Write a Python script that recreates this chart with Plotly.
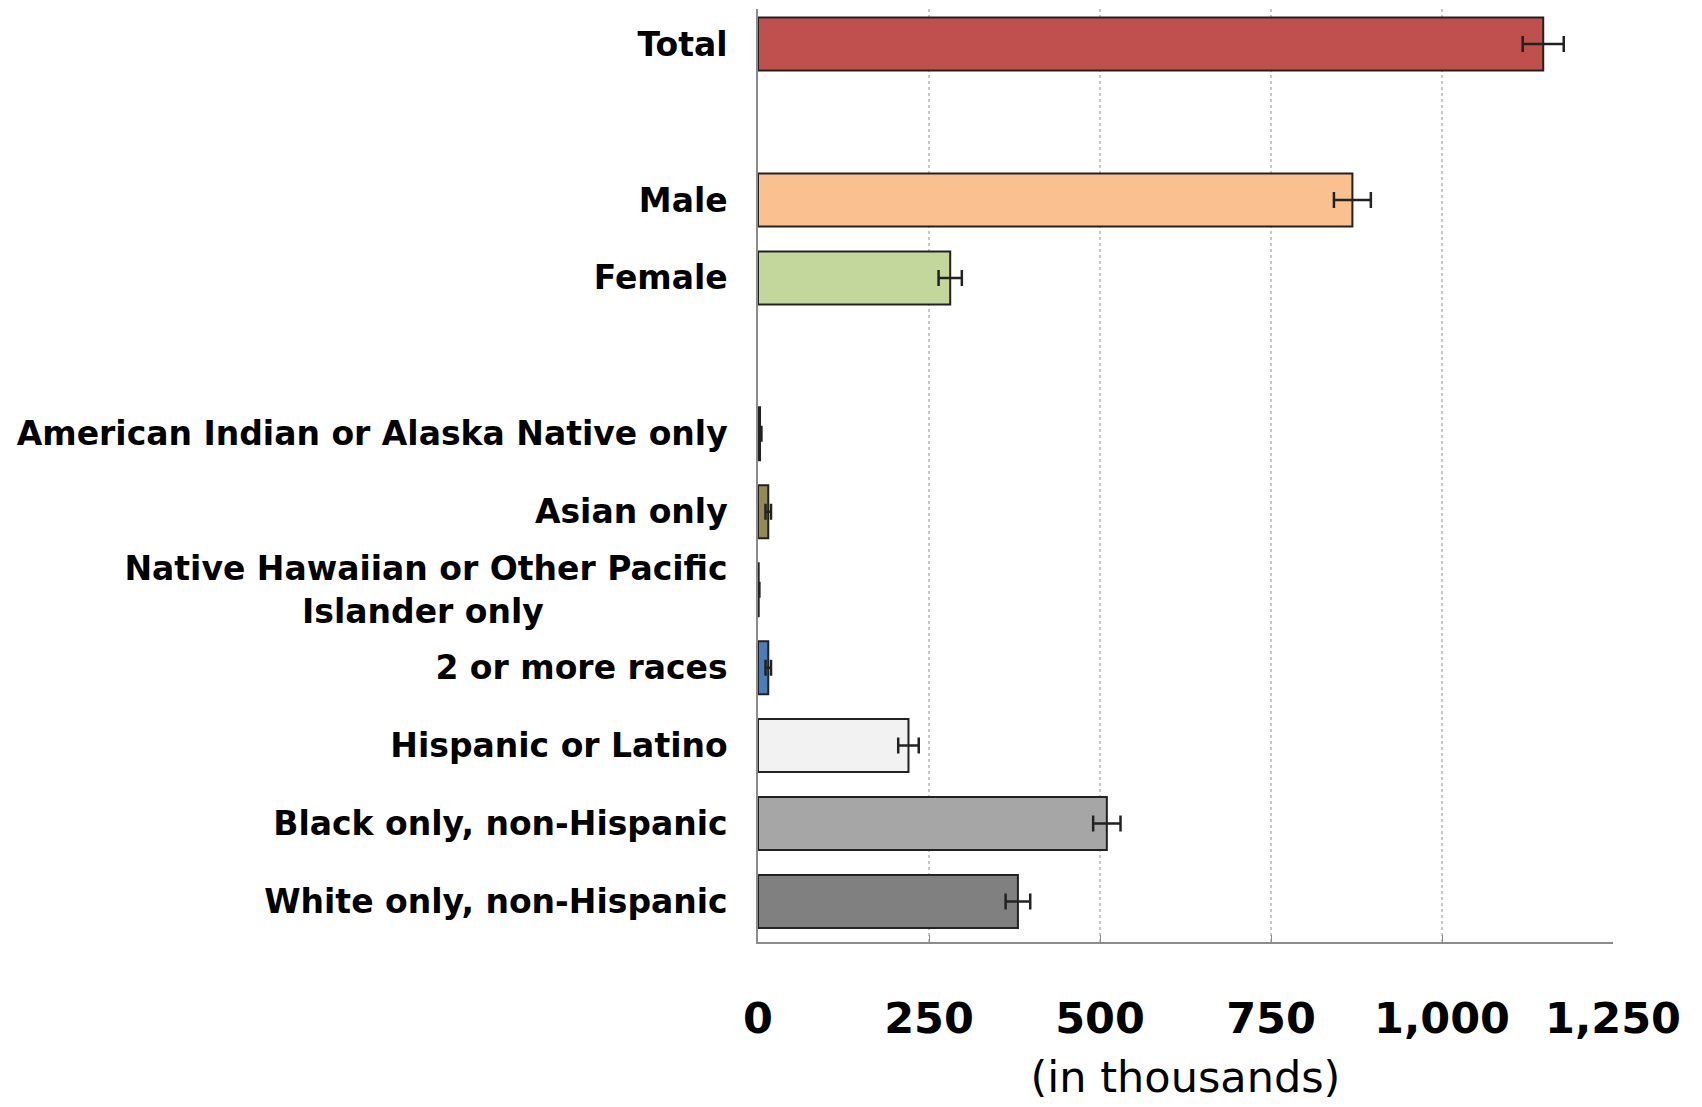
import plotly.graph_objects as go

# categories top to bottom; blank entries are spacer rows
row_order = ["Total", " ", "Male", "Female", "  ",
             "American Indian or Alaska Native only", "Asian only",
             "Native Hawaiian or Other Pacific Islander only",
             "2 or more races", "Hispanic or Latino",
             "Black only, non-Hispanic", "White only, non-Hispanic"]
row_labels = ["Total", "", "Male", "Female", "",
              "American Indian or Alaska Native only", "Asian only",
              "Native Hawaiian or Other Pacific<br>Islander only" + "\u00a0" * 16,
              "2 or more races", "Hispanic or Latino",
              "Black only, non-Hispanic", "White only, non-Hispanic"]

groups = ["Total", "Male", "Female",
          "American Indian or Alaska Native only", "Asian only",
          "Native Hawaiian or Other Pacific Islander only",
          "2 or more races", "Hispanic or Latino",
          "Black only, non-Hispanic", "White only, non-Hispanic"]
values = [1148, 869, 281, 3, 15, 1, 15, 220, 510, 380]
errors = [30, 27, 17, 2, 4, 1, 4, 15, 20, 18]
bar_colors = ["#C0504D", "#FAC090", "#C3D69B", "#1F1F1F", "#948A54",
              "#1F1F1F", "#4A7EBB", "#F2F2F2", "#A6A6A6", "#808080"]

x_ticks = [0, 250, 500, 750, 1000, 1250]
x_ticktext = ["0", "250", "500", "750", "1,000", "1,250"]

fig = go.Figure(go.Bar(
    x=values, y=groups, orientation="h", width=0.68,
    marker=dict(color=bar_colors, line=dict(color="#222222", width=2)),
    error_x=dict(type="data", array=errors, color="#222222", thickness=2.5, width=8),
))

# page body adds an 8px offset, so margins are shifted to compensate
fig.update_layout(
    width=1702, height=1107,
    plot_bgcolor="white", paper_bgcolor="white",
    margin=dict(l=750, r=97, t=1, b=173),
    showlegend=False,
    font=dict(family="DejaVu Sans", color="black"),
)
fig.update_xaxes(
    range=[0, 1250], tickvals=x_ticks, ticktext=x_ticktext,
    tickfont=dict(size=43, weight="bold"), ticklabelstandoff=38,
    showgrid=True, gridcolor="#c8c8c8", griddash="dot", gridwidth=1.5,
    showline=True, linecolor="#8c8c8c", linewidth=1.5,
    ticks="inside", ticklen=7, tickcolor="#8c8c8c",
    zeroline=False, automargin=False,
    title=dict(text="(in thousands)", font=dict(size=43), standoff=20),
)
fig.update_yaxes(
    type="category", categoryorder="array", categoryarray=row_order[::-1],
    tickvals=row_order, ticktext=row_labels,
    range=[-0.52, 11.45], automargin=False,
    tickfont=dict(size=33, weight="bold"), ticklabelstandoff=22,
    showline=True, linecolor="#8c8c8c", linewidth=1.5,
    showgrid=False, ticks="",
)

fig.write_html("out.html")
